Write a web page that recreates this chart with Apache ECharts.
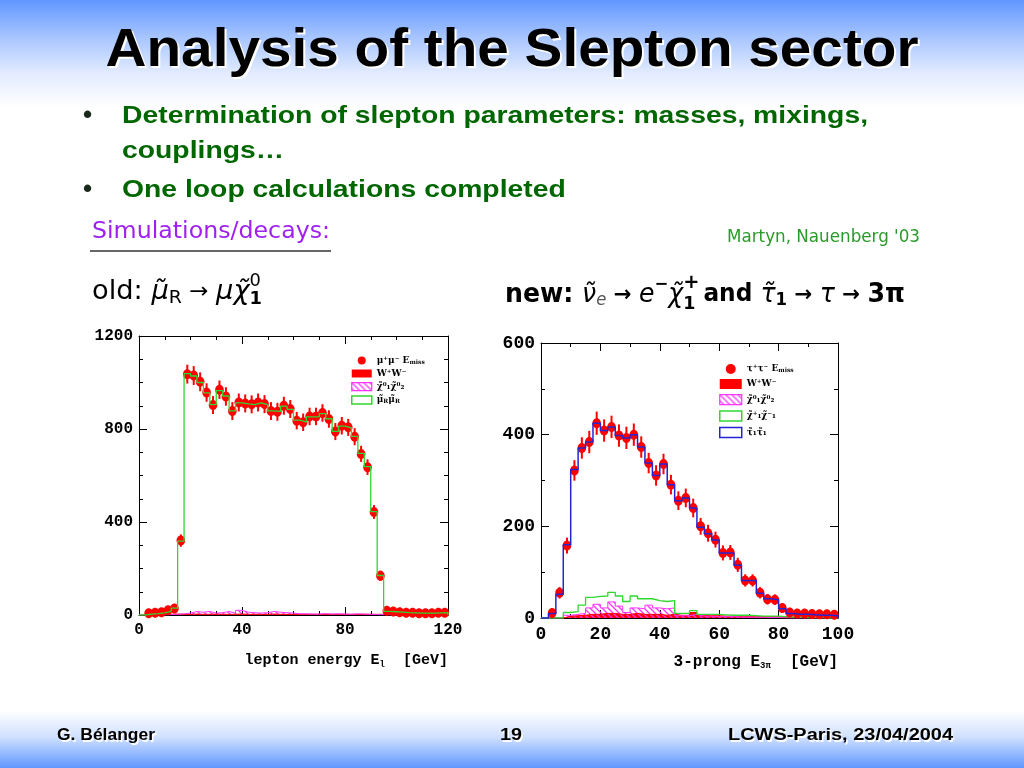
<!DOCTYPE html>
<html><head><meta charset="utf-8">
<script src="https://cdn.jsdelivr.net/npm/echarts@6/dist/echarts.min.js"></script>
<style>
html,body{margin:0;padding:0;}
#c{width:1024px;height:768px;background:linear-gradient(to bottom,#6097ff 0%,#a9c6ff 5%,#e2ebff 9.5%,#ffffff 14%,#ffffff 92.5%,#cfe0ff 96%,#5f96ff 100%);}
</style>
</head><body><div id="c"></div>
<script>
// ---------------- data ----------------
const binWidth = 2.5;
// left panel: lepton energy, 48 bins of 2.5 GeV (0..120)
const leftPoints = [null, 8, 10, 12, 20, 28, 320, 1036, 1030, 1003, 957, 903, 969, 940, 877, 914, 910, 906, 914, 907, 877, 874, 900, 886, 836, 829, 854, 854, 869, 843, 789, 814, 807, 767, 693, 636, 443, 169, 18, 15, 12, 10, 10, 8, 8, 8, 10, 10];
const leftErr = [0, 3, 3, 4, 5, 6, 18, 32, 32, 32, 31, 30, 31, 31, 30, 30, 30, 30, 30, 30, 30, 30, 30, 30, 29, 29, 29, 29, 29, 29, 28, 29, 28, 28, 26, 25, 21, 13, 4, 4, 4, 3, 3, 3, 3, 3, 3, 3];
const leftSmuon = [0, 4, 6, 9, 16, 30, 318, 1038, 1028, 1000, 955, 905, 965, 942, 878, 912, 908, 905, 912, 905, 878, 876, 898, 884, 838, 830, 852, 852, 866, 844, 790, 812, 805, 768, 695, 638, 445, 170, 16, 14, 12, 10, 9, 8, 8, 8, 9, 10];
const leftNeutralino = [0, 0, 0, 0, 2, 3, 5, 8, 15, 12, 15, 8, 10, 15, 8, 20, 12, 10, 8, 10, 15, 12, 10, 8, 5, 5, 4, 4, 6, 4, 5, 4, 3, 5, 4, 3, 2, 1, 0, 0, 0, 0, 0, 0, 0, 0, 0, 0];
const leftWW = [0, 2, 2, 3, 3, 4, 3, 3, 4, 3, 3, 4, 3, 3, 3, 4, 3, 3, 3, 3, 4, 3, 3, 3, 3, 3, 3, 3, 3, 3, 3, 3, 3, 3, 3, 3, 3, 3, 3, 3, 3, 2, 2, 2, 2, 2, 2, 2];
const leftXTicks = [0, 40, 80, 120];
const leftYTicks = [0, 400, 800, 1200];

// right panel: 3-prong energy, 40 bins of 2.5 GeV (0..100)
const rightPoints = [null, 11, 55, 158, 322, 371, 384, 425, 409, 417, 398, 393, 400, 373, 338, 311, 336, 291, 256, 262, 240, 200, 185, 171, 142, 143, 116, 82, 82, 55, 41, 40, 22, 12, 10, 10, 9, 8, 8, 7];
const rightErr = [0, 4, 8, 13, 18, 19, 20, 21, 20, 20, 20, 20, 20, 19, 18, 18, 18, 17, 16, 16, 16, 14, 14, 13, 12, 12, 11, 9, 9, 8, 7, 7, 5, 4, 3, 3, 3, 3, 3, 3];
const rightStau = [0, 10, 52, 160, 324, 371, 384, 425, 409, 417, 398, 393, 400, 373, 338, 311, 336, 291, 256, 262, 240, 198, 184, 170, 142, 142, 115, 82, 82, 54, 42, 40, 20, 10, 8, 8, 7, 6, 6, 5];
const rightChargino = [0, 0, 0, 12, 14, 28, 45, 47, 48, 56, 48, 36, 48, 42, 42, 38, 36, 38, 10, 10, 16, 8, 8, 8, 7, 6, 6, 6, 5, 4, 4, 4, 3, 2, 2, 1, 1, 1, 0, 0];
const rightNeutralino = [0, 0, 0, 6, 8, 10, 22, 30, 22, 35, 26, 12, 22, 20, 28, 22, 20, 22, 5, 5, 8, 4, 4, 3, 3, 3, 2, 2, 2, 2, 1, 1, 0, 0, 0, 0, 0, 0, 0, 0];
const rightWW = [0, 0, 0, 4, 5, 6, 8, 8, 10, 10, 8, 8, 10, 8, 8, 8, 6, 8, 6, 6, 12, 6, 5, 5, 4, 4, 4, 4, 3, 3, 3, 3, 2, 2, 2, 2, 1, 1, 1, 1];
const rightXTicks = [0, 20, 40, 60, 80, 100];
const rightYTicks = [0, 200, 400, 600];

// texts
const titleText = 'Analysis of the Slepton sector';
const bullet1a = 'Determination of slepton parameters: masses, mixings,';
const bullet1b = 'couplings…';
const bullet2 = 'One loop calculations completed';
const simText = 'Simulations/decays:';
const refText = "Martyn, Nauenberg '03";
const footLeft = 'G. Bélanger';
const footMid = '19';
const footRight = 'LCWS-Paris, 23/04/2004';

// ---------------- helpers ----------------
function stepData(vals){
  const d = [[0, 0]];
  vals.forEach((v, i) => d.push([i * binWidth, v]));
  d.push([vals.length * binWidth, vals[vals.length - 1]]);
  d.push([vals.length * binWidth, 0]);
  return d;
}
function pointData(vals, errs){
  const d = [];
  vals.forEach((v, i) => { if (v != null) d.push([(i + 0.5) * binWidth, v, errs[i]]); });
  return d;
}
const mctx = document.createElement('canvas').getContext('2d');
function tw(text, font){ mctx.font = font; return mctx.measureText(text).width; }
function txt(text, x, y, font, fill, s, align){
  align = align || 'left';
  return {type:'text', x:x, y:y, scaleX:s, silent:true, z:10,
    style:{text:text, font:font, fill:fill, align:align, textAlign:align, verticalAlign:'middle', textVerticalAlign:'middle'}};
}
function fitText(o){
  const w = tw(o.text, o.font);
  const s = o.width ? o.width / w : 1;
  const els = [];
  if (o.shadow) els.push(txt(o.text, o.x + o.shadow, o.y + o.shadow, o.font, '#ffffff', s, o.align));
  els.push(txt(o.text, o.x, o.y, o.font, o.fill, s, o.align));
  return {els: els, scale: s};
}
function mathLine(x, y, segs, width){
  let tot = 0; const xs = [];
  segs.forEach(sg => { xs.push(tot); const w = tw(sg.t, sg.f); if (sg.adv !== false) tot += w; });
  const s = width / tot;
  return segs.map((sg, i) => txt(sg.t, x + xs[i] * s, y + (sg.dy || 0), sg.f, sg.fill || '#000', s, 'left'));
}

const hatch = document.createElement('canvas');
hatch.width = 6; hatch.height = 6;
(function(){
  const h = hatch.getContext('2d');
  h.strokeStyle = '#ff33ff'; h.lineWidth = 1.3;
  h.beginPath();
  h.moveTo(0, 0); h.lineTo(6, 6);
  h.moveTo(-3, 3); h.lineTo(3, 9);
  h.moveTo(3, -3); h.lineTo(9, 3);
  h.stroke();
})();
const hatchFill = {image: hatch, repeat: 'repeat'};

const RED = '#ff0000', GREEN = '#2fd82f', MAG = '#ff33ff', BLUE = '#2424d6';

function pointsRender(params, api){
  const x = api.value(0), y = api.value(1), e = api.value(2);
  const p = api.coord([x, y]);
  const t = api.coord([x, y + e]);
  const b = api.coord([x, Math.max(0, y - e)]);
  return {type:'group', children:[
    {type:'line', shape:{x1:p[0], y1:t[1] - 2, x2:p[0], y2:b[1] + 2}, style:{stroke:RED, lineWidth:2}},
    {type:'ellipse', shape:{cx:p[0], cy:p[1], rx:4.3, ry:5}, style:{fill:RED}}
  ]};
}

function xAxisDef(gi, max, interval, pos, fontSize, name, namePad, nameSize){
  return {
    gridIndex:gi, type:'value', min:0, max:max, interval:interval, position:pos,
    axisLine:{show:true, onZero:false, lineStyle:{color:'#000', width:1}},
    axisTick:{show:true, inside:true, length:8, lineStyle:{color:'#000'}},
    minorTick:{show:true, splitNumber: gi === 0 ? 4 : 2, length:4, lineStyle:{color:'#000'}},
    splitLine:{show:false},
    axisLabel:{show: pos === 'bottom', margin:7, color:'#000', fontFamily:'Liberation Mono', fontWeight:'bold', fontSize:fontSize, formatter: v => String(v)},
    name: pos === 'bottom' ? name : '',
    nameLocation:'end', nameGap:0,
    nameTextStyle:{fontFamily:'Liberation Mono', fontWeight:'bold', fontSize:nameSize, color:'#000', align:'right', verticalAlign:'top', padding:[namePad, 0, 0, 0],
      rich:{e:{fontFamily:'Liberation Mono', fontWeight:'bold', fontSize:nameSize, color:'#000'}, s:{fontFamily:'Liberation Mono', fontWeight:'bold', fontSize:9, color:'#000', verticalAlign:'bottom', padding:[8,0,0,0]}}}
  };
}
function yAxisDef(gi, max, interval, pos, fontSize, minorSplit){
  return {
    gridIndex:gi, type:'value', min:0, max:max, interval:interval, position:pos,
    axisLine:{show:true, onZero:false, lineStyle:{color:'#000', width:1}},
    axisTick:{show:true, inside:true, length:8, lineStyle:{color:'#000'}},
    minorTick:{show:true, splitNumber:minorSplit, length:4, lineStyle:{color:'#000'}},
    splitLine:{show:false},
    axisLabel:{show: pos === 'left', margin:6, color:'#000', fontFamily:'Liberation Mono', fontWeight:'bold', fontSize:fontSize, formatter: v => String(v)}
  };
}
function stepLine(name, xi, vals, color, width, area, z){
  const s = {name:name, type:'line', xAxisIndex:xi, yAxisIndex:xi, step:'end', data:stepData(vals),
    showSymbol:false, symbol:'none', lineStyle:{color:color, width:width}, itemStyle:{color:color}, z:z, silent:true};
  if (area) s.areaStyle = {color:area, opacity:1};
  return s;
}

// ---------------- graphics (slide texts) ----------------
const graphics = [];
const T = fitText({text:titleText, x:512, y:51, font:'bold 54px "Liberation Sans"', width:813, fill:'#000', shadow:2, align:'center'});
graphics.push(...T.els);
const B1 = fitText({text:bullet1a, x:122, y:116, font:'bold 24px "Liberation Sans"', width:746, fill:'#006600'});
graphics.push(...B1.els);
graphics.push(txt(bullet1b, 122, 151, 'bold 24px "Liberation Sans"', '#006600', B1.scale, 'left'));
graphics.push(txt(bullet2, 122, 190, 'bold 24px "Liberation Sans"', '#006600', B1.scale, 'left'));
graphics.push(txt('•', 83, 116, 'bold 26px "Liberation Sans"', '#1a2a1a', 1, 'left'));
graphics.push(txt('•', 83, 190, 'bold 26px "Liberation Sans"', '#1a2a1a', 1, 'left'));
graphics.push(...fitText({text:simText, x:92, y:232, font:'23px "DejaVu Sans"', width:238, fill:'#a020f0'}).els);
graphics.push({type:'line', silent:true, shape:{x1:90, y1:251, x2:331, y2:251}, style:{stroke:'#333', lineWidth:1.5}});
graphics.push(...fitText({text:refText, x:727, y:238, font:'17px "DejaVu Sans"', width:193, fill:'#2a9a2a'}).els);
const F = '"DejaVu Sans"';
graphics.push(...mathLine(92, 292, [
  {t:'old: ', f:`26px ${F}`},
  {t:'μ̃', f:`italic 26px ${F}`},
  {t:'R', f:`18px ${F}`, dy:6},
  {t:' → ', f:`22px ${F}`},
  {t:'μ', f:`italic 26px ${F}`},
  {t:'χ̃', f:`italic 26px ${F}`},
  {t:'0', f:`17px ${F}`, dy:-10, adv:false},
  {t:'1', f:`bold 17px ${F}`, dy:8}
], 170));
graphics.push(...mathLine(505, 295, [
  {t:'new: ', f:`bold 26px ${F}`},
  {t:'ν̃', f:`italic 26px ${F}`},
  {t:'e', f:`italic 17px ${F}`, dy:6, fill:'#555'},
  {t:' → ', f:`bold 22px ${F}`},
  {t:'e', f:`italic 26px ${F}`},
  {t:'−', f:`bold 17px ${F}`, dy:-10},
  {t:'χ̃', f:`italic 26px ${F}`},
  {t:'+', f:`bold 20px ${F}`, dy:-12, adv:false},
  {t:'1', f:`bold 18px ${F}`, dy:9},
  {t:' and ', f:`bold 24px ${F}`},
  {t:'τ̃', f:`italic 26px ${F}`},
  {t:'1', f:`bold 17px ${F}`, dy:6},
  {t:' → ', f:`bold 22px ${F}`},
  {t:'τ', f:`italic 26px ${F}`},
  {t:' → ', f:`bold 22px ${F}`},
  {t:'3π', f:`bold 26px ${F}`}
], 400));
graphics.push(...fitText({text:footLeft, x:57, y:736, font:'bold 16px "Liberation Sans"', width:98, fill:'#000', shadow:1.5}).els);
graphics.push(...fitText({text:footMid, x:511, y:736, font:'bold 16px "Liberation Sans"', width:22, fill:'#000', shadow:1.5, align:'center'}).els);
graphics.push(...fitText({text:footRight, x:728, y:736, font:'bold 16px "Liberation Sans"', width:225, fill:'#000', shadow:1.5}).els);

// ---------------- legends ----------------
const legendLabels = {
  Lpts:'{a|μ⁺μ⁻ E}{s|miss}', Lww:'{a|W⁺W⁻}', Lchi:'{a|χ̃⁰₁χ̃⁰₂}', Lsmu:'{a|μ̃}{s|R}{a|μ̃}{s|R}',
  Rpts:'{a|τ⁺τ⁻ E}{s|miss}', Rww:'{a|W⁺W⁻}', Rchi:'{a|χ̃⁰₁χ̃⁰₂}', Rcha:'{a|χ̃⁺₁χ̃⁻₁}', Rstau:'{a|τ̃₁τ̃₁}'
};
const legRich = {
  a:{fontFamily:'DejaVu Serif', fontWeight:'bold', fontSize:9, color:'#000'},
  s:{fontFamily:'DejaVu Serif', fontWeight:'bold', fontSize:6, color:'#000', verticalAlign:'bottom'}
};
function legend(left, top, iw, ih, gap, items){
  return {left:left, top:top, orient:'vertical', itemWidth:iw, itemHeight:ih, itemGap:gap, selectedMode:false, padding:0,
    formatter: n => legendLabels[n], textStyle:{fontSize:9, rich:legRich}, data:items};
}
const legLeft = legend(351, 356, 20, 8, 4, [
  {name:'Lpts', icon:'circle', itemStyle:{color:RED, borderWidth:0}},
  {name:'Lww', icon:'rect', itemStyle:{color:RED, borderWidth:0}},
  {name:'Lchi', icon:'rect', itemStyle:{color:hatchFill, borderColor:MAG, borderWidth:1.2}},
  {name:'Lsmu', icon:'rect', itemStyle:{color:'#fff', borderColor:GREEN, borderWidth:1.5}}
]);
const legRight = legend(719, 364, 22, 10, 5, [
  {name:'Rpts', icon:'circle', itemStyle:{color:RED, borderWidth:0}},
  {name:'Rww', icon:'rect', itemStyle:{color:RED, borderWidth:0}},
  {name:'Rchi', icon:'rect', itemStyle:{color:hatchFill, borderColor:MAG, borderWidth:1.2}},
  {name:'Rcha', icon:'rect', itemStyle:{color:'#fff', borderColor:GREEN, borderWidth:1.5}},
  {name:'Rstau', icon:'rect', itemStyle:{color:'#fff', borderColor:BLUE, borderWidth:1.5}}
]);

// ---------------- chart ----------------
const chart = echarts.init(document.getElementById('c'), null, {renderer:'canvas'});
chart.setOption({
  backgroundColor:'transparent',
  animation:false,
  legend:[legLeft, legRight],
  grid:[
    {left:139, top:336, width:309, height:279, backgroundColor:'#fff', show:true, borderWidth:0},
    {left:541, top:343, width:297, height:275, backgroundColor:'#fff', show:true, borderWidth:0}
  ],
  xAxis:[
    xAxisDef(0, leftXTicks[leftXTicks.length-1], leftXTicks[1]-leftXTicks[0], 'bottom', 16, 'lepton energy {e|E}{s|l}  [GeV]', 37, 15),
    xAxisDef(0, leftXTicks[leftXTicks.length-1], leftXTicks[1]-leftXTicks[0], 'top', 16, '', 0, 15),
    xAxisDef(1, rightXTicks[rightXTicks.length-1], rightXTicks[1]-rightXTicks[0], 'bottom', 18, '3-prong {e|E}{s|3π}  [GeV]', 35, 16),
    xAxisDef(1, rightXTicks[rightXTicks.length-1], rightXTicks[1]-rightXTicks[0], 'top', 18, '', 0, 16)
  ],
  yAxis:[
    yAxisDef(0, leftYTicks[leftYTicks.length-1], leftYTicks[1]-leftYTicks[0], 'left', 16, 4),
    yAxisDef(0, leftYTicks[leftYTicks.length-1], leftYTicks[1]-leftYTicks[0], 'right', 16, 4),
    yAxisDef(1, rightYTicks[rightYTicks.length-1], rightYTicks[1]-rightYTicks[0], 'left', 18, 2),
    yAxisDef(1, rightYTicks[rightYTicks.length-1], rightYTicks[1]-rightYTicks[0], 'right', 18, 2)
  ],
  graphic:{elements:graphics},
  series:[
    stepLine('Lww', 0, leftWW, RED, 1, RED, 2),
    stepLine('Lchi', 0, leftNeutralino, MAG, 1, hatchFill, 2),
    {name:'Lpts', type:'custom', xAxisIndex:0, yAxisIndex:0, renderItem:pointsRender, data:pointData(leftPoints, leftErr), encode:{x:0, y:1}, z:3, silent:true},
    stepLine('Lsmu', 0, leftSmuon, GREEN, 1.3, null, 4),
    stepLine('Rww', 2, rightWW, RED, 1, RED, 2),
    stepLine('Rchi', 2, rightNeutralino, MAG, 1, hatchFill, 2),
    stepLine('Rcha', 2, rightChargino, GREEN, 1.3, null, 2),
    {name:'Rpts', type:'custom', xAxisIndex:2, yAxisIndex:2, renderItem:pointsRender, data:pointData(rightPoints, rightErr), encode:{x:0, y:1}, z:3, silent:true},
    stepLine('Rstau', 2, rightStau, BLUE, 1.5, null, 4)
  ]
});
</script>
</body></html>
